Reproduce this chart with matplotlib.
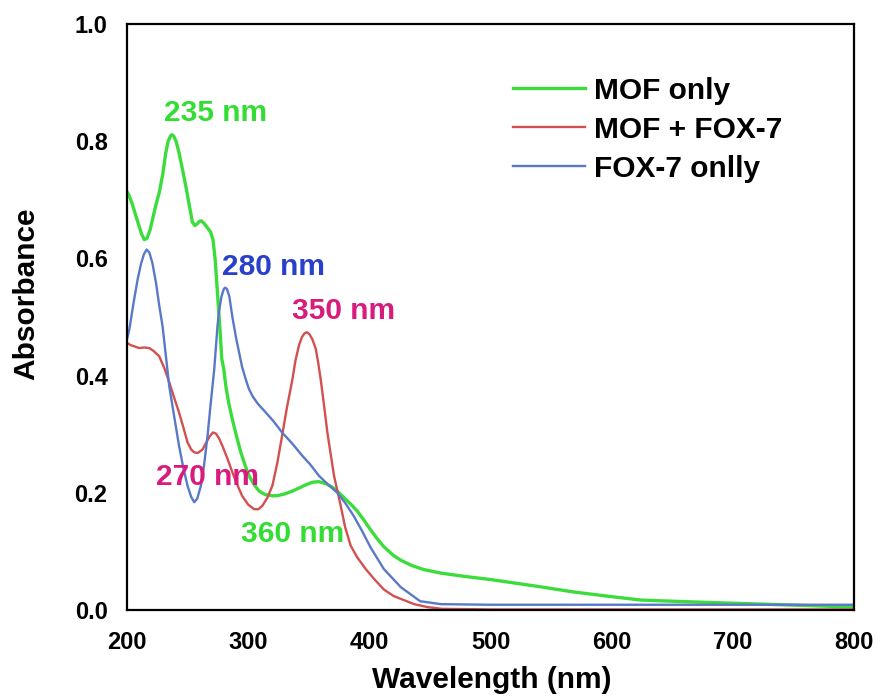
import matplotlib
matplotlib.use("Agg")
import matplotlib.pyplot as plt

# Espectros UV-Vis
wl_mof = [200, 201.4, 204, 207, 210, 212, 214.3, 216.5, 219, 221, 224, 226.6, 229.5, 232,
          234, 236, 237, 238.5, 240.5, 243, 246, 248.6, 251.5, 254, 256, 258, 259.6,
          261.5, 263.5, 266.5, 269, 271, 272.8, 274.7, 276.6, 278.3, 280, 281.6, 284,
          287, 290.5, 294, 297.5, 300.8, 305, 309, 314, 320, 324, 330, 336.6, 343, 348,
          353, 358, 364, 370, 375, 380, 385, 390, 395, 400, 406, 412, 420, 426, 435,
          445, 459, 480, 500, 520, 540, 568, 595, 624, 650, 679, 710, 740, 770, 800]
abs_mof = [0.714, 0.709, 0.695, 0.675, 0.655, 0.642, 0.632, 0.634, 0.648, 0.666, 0.692,
           0.712, 0.743, 0.780, 0.800, 0.809, 0.811, 0.809, 0.800, 0.780, 0.750, 0.723,
           0.690, 0.662, 0.656, 0.659, 0.663, 0.664, 0.660, 0.652, 0.645, 0.632, 0.598,
           0.541, 0.484, 0.428, 0.410, 0.382, 0.353, 0.325, 0.296, 0.269, 0.247, 0.229,
           0.214, 0.203, 0.197, 0.195, 0.195, 0.198, 0.203, 0.209, 0.214, 0.218, 0.219,
           0.216, 0.209, 0.200, 0.190, 0.180, 0.169, 0.155, 0.140, 0.123, 0.108, 0.093,
           0.085, 0.076, 0.069, 0.063, 0.057, 0.052, 0.046, 0.040, 0.031, 0.024, 0.017,
           0.015, 0.013, 0.011, 0.009, 0.007, 0.005]

wl_mix = [200, 203, 206, 210, 214, 218.4, 222, 226.6, 231, 235, 239, 243, 246.5, 250,
          253, 255.5, 258.5, 262.4, 266, 268.5, 271, 273.5, 276, 278.8, 283, 287, 291,
          295, 300, 305, 308.5, 311.8, 316, 320, 324, 328, 332, 336.6, 339, 342, 344.5,
          346.5, 348.4, 350.5, 353, 355.8, 358, 360, 362.5, 365.4, 370.9, 376.4, 380,
          384.6, 390, 397, 404, 412, 420, 426, 437, 448, 460, 500, 600, 700, 800]
abs_mix = [0.456, 0.452, 0.450, 0.447, 0.448, 0.447, 0.442, 0.433, 0.412, 0.388, 0.362,
           0.337, 0.312, 0.286, 0.274, 0.269, 0.268, 0.274, 0.288, 0.297, 0.303, 0.301,
           0.293, 0.280, 0.258, 0.235, 0.214, 0.195, 0.180, 0.172, 0.172, 0.178, 0.192,
           0.212, 0.250, 0.297, 0.345, 0.394, 0.425, 0.452, 0.466, 0.472, 0.474, 0.471,
           0.462, 0.446, 0.420, 0.392, 0.352, 0.303, 0.229, 0.178, 0.142, 0.110, 0.090,
           0.070, 0.053, 0.035, 0.024, 0.019, 0.010, 0.005, 0.002, 0.001, 0.001, 0.001,
           0.001]

wl_fox = [200, 202, 205.5, 208.8, 211.5, 214, 216.2, 218.5, 221, 224, 226.6, 229.4, 234.9,
          239, 243, 246.5, 250, 253, 255.5, 258, 261, 263.5, 266.5, 269, 272, 274.7,
          276, 278, 280, 281, 282.5, 284.5, 287, 290, 292.6, 295, 298, 300.5, 303.6,
          308, 314.6, 321, 328, 336, 344.8, 351, 358.5, 366, 373.6, 380, 387, 394, 401,
          412, 426, 442, 459, 500, 600, 700, 800]
abs_fox = [0.462, 0.479, 0.525, 0.564, 0.590, 0.607, 0.615, 0.610, 0.592, 0.558, 0.520,
           0.484, 0.382, 0.330, 0.280, 0.243, 0.212, 0.193, 0.184, 0.190, 0.212, 0.245,
           0.297, 0.350, 0.410, 0.484, 0.510, 0.535, 0.548, 0.550, 0.548, 0.535, 0.500,
           0.465, 0.439, 0.415, 0.394, 0.378, 0.365, 0.352, 0.337, 0.322, 0.303, 0.285,
           0.263, 0.249, 0.229, 0.214, 0.200, 0.183, 0.161, 0.135, 0.107, 0.070, 0.039,
           0.015, 0.010, 0.009, 0.009, 0.009, 0.009]

series_labels = ["MOF only", "MOF + FOX-7", "FOX-7 onlly"]

# Etiquetas de picos: (texto, x, y)
peak_labels = [("235 nm", 273, 0.848), ("280 nm", 321, 0.586), ("350 nm", 379, 0.510),
               ("270 nm", 266.5, 0.227), ("360 nm", 337, 0.130)]
peak_colors = ["#33dd33", "#2a40c8", "#d81b7c", "#d81b7c", "#33dd33"]

plt.rcParams["font.family"] = ["Liberation Sans", "DejaVu Sans"]
plt.rcParams["font.weight"] = "bold"

fig = plt.figure(figsize=(8.78, 6.97), dpi=100)
ax = fig.add_axes([0.1446, 0.1248, 0.828, 0.8408])

ax.plot(wl_mof, abs_mof, color="#3ddc3d", linewidth=2.4, label=series_labels[0])
ax.plot(wl_mix, abs_mix, color="#d2504f", linewidth=1.7, label=series_labels[1])
ax.plot(wl_fox, abs_fox, color="#5a78c8", linewidth=1.7, label=series_labels[2])

for (txt, x, y), c in zip(peak_labels, peak_colors):
    ax.text(x, y, txt, color=c, fontsize=21.5, fontweight="bold",
            ha="center", va="center", zorder=5)

ax.set_xlim(200, 800)
ax.set_ylim(0, 1.0)
ax.set_xticks([200, 300, 400, 500, 600, 700, 800])
ax.set_yticks([0.0, 0.2, 0.4, 0.6, 0.8, 1.0])
ax.set_yticklabels(["0.0", "0.2", "0.4", "0.6", "0.8", "1.0"])
ax.tick_params(length=0, labelsize=17)
ax.tick_params(axis="x", pad=15)
ax.tick_params(axis="y", pad=14)
for s in ax.spines.values():
    s.set_linewidth(1.6)

# titulos de ejes colocados a mano, como en la figura original
fig.text(0.560, 0.0244, "Wavelength (nm)", fontsize=21.5, fontweight="bold",
         ha="center", va="center")
fig.text(0.0296, 0.578, "Absorbance", fontsize=21.5, fontweight="bold",
         ha="center", va="center", rotation=90)

ax.legend(loc="upper left", bbox_to_anchor=(0.531, 0.91), frameon=False,
          fontsize=21.5, handlelength=2.4, handletextpad=0.3, labelspacing=0.37,
          borderpad=0, borderaxespad=0)

plt.savefig("out.png", dpi=100)
